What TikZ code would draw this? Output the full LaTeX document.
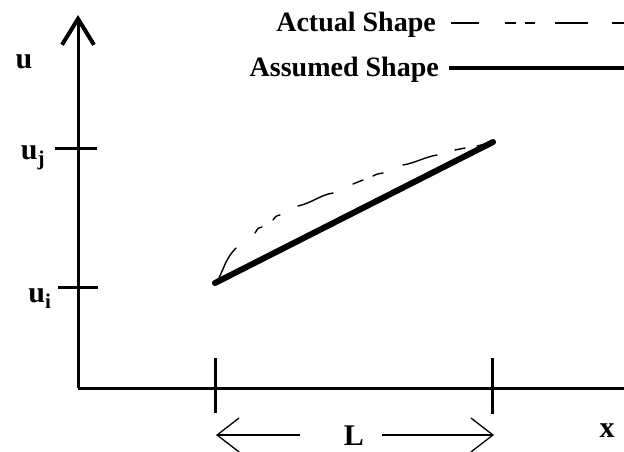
\documentclass[tikz,border=0pt]{standalone}
\usepackage{fontspec}
\setmainfont{Liberation Serif}
\usetikzlibrary{arrows.meta}
\tikzset{
  axisline/.style={line width=3pt},
  tickline/.style={line width=3pt},
  assumed/.style={line width=6pt, line cap=round},
  actual/.style={line width=1.4pt, line cap=round},
  dimline/.style={line width=1.3pt, -{Straight Barb[length=22pt,width=34pt,line width=1.3pt]}},
  legendtxt/.style={font=\fontsize{28}{32}\selectfont\bfseries, inner sep=0pt, anchor=east},
  axlbl/.style={font=\fontsize{30}{34}\selectfont\bfseries, inner sep=0pt},
}
\begin{document}
\begin{tikzpicture}[x=1pt,y=-1pt]
\useasboundingbox (0,0) rectangle (624,452);
% axes
\coordinate (O) at (78,388);
\coordinate (ytop) at (78,15);
\coordinate (xend) at (626,388);
\draw[axisline, -{Straight Barb[length=26pt,width=32pt,line width=4pt]}] (O) -- (ytop);
\draw[axisline] (O) -- (xend);
% y ticks
\coordinate (uj1) at (55,148); \coordinate (uj2) at (97,148);
\coordinate (ui1) at (58,287); \coordinate (ui2) at (98,287);
\draw[tickline] (uj1) -- (uj2);
\draw[tickline] (ui1) -- (ui2);
% x ticks
\coordinate (xa1) at (215,358); \coordinate (xa2) at (215,413);
\coordinate (xb1) at (492,358); \coordinate (xb2) at (492,414);
\draw[tickline] (xa1) -- (xa2);
\draw[tickline] (xb1) -- (xb2);
% labels
\node[axlbl] (lu) at (24,62) {u};
\node[axlbl] (luj) at (33,158) {u\textsubscript{j}};
\node[axlbl] (lui) at (40,299) {u\textsubscript{i}};
\node[axlbl] (lx) at (607,431) {x};
\node[axlbl] (lL) at (354,436) {L};
% dimension arrows
\coordinate (La) at (300,435); \coordinate (Lb) at (216,435);
\coordinate (Lc) at (382,435); \coordinate (Ld) at (494,435);
\draw[dimline] (La) -- (Lb);
\draw[dimline] (Lc) -- (Ld);
% assumed shape
\coordinate (P1) at (215,283);
\coordinate (P2) at (493,142);
\draw[assumed] (P1) -- (P2);
% actual shape (irregular dashes)
\draw[actual] (219,278) .. controls (224,268) and (226,258) .. (236,248);
\draw[actual] (255,233) .. controls (258,228) .. (262,227);
\draw[actual] (273,220) .. controls (276,216) .. (280,215);
\draw[actual] (298,206) .. controls (312,203) and (320,195) .. (333,193);
\draw[actual] (353,184) -- (363,180);
\draw[actual] (373,176) .. controls (377,174) .. (383,173);
\draw[actual] (403,165) .. controls (415,163) and (425,157) .. (437,155);
\draw[actual] (455,150) -- (465,148);
\draw[actual] (477,146) -- (490,143);
% legend
\node[legendtxt] (tact) at (436,25) {Actual Shape};
\node[legendtxt] (tass) at (439,70) {Assumed Shape};
\coordinate (la1) at (451,23); \coordinate (la2) at (624,23);
\coordinate (lb1) at (449,68); \coordinate (lb2) at (624,68);
\draw[line width=1.4pt, dash pattern=on 28pt off 26pt on 11pt off 9pt on 10pt off 20pt on 33pt off 24pt on 12pt off 10pt] (la1) -- (la2);
\draw[line width=4.5pt] (lb1) -- (lb2);
\end{tikzpicture}
\end{document}
